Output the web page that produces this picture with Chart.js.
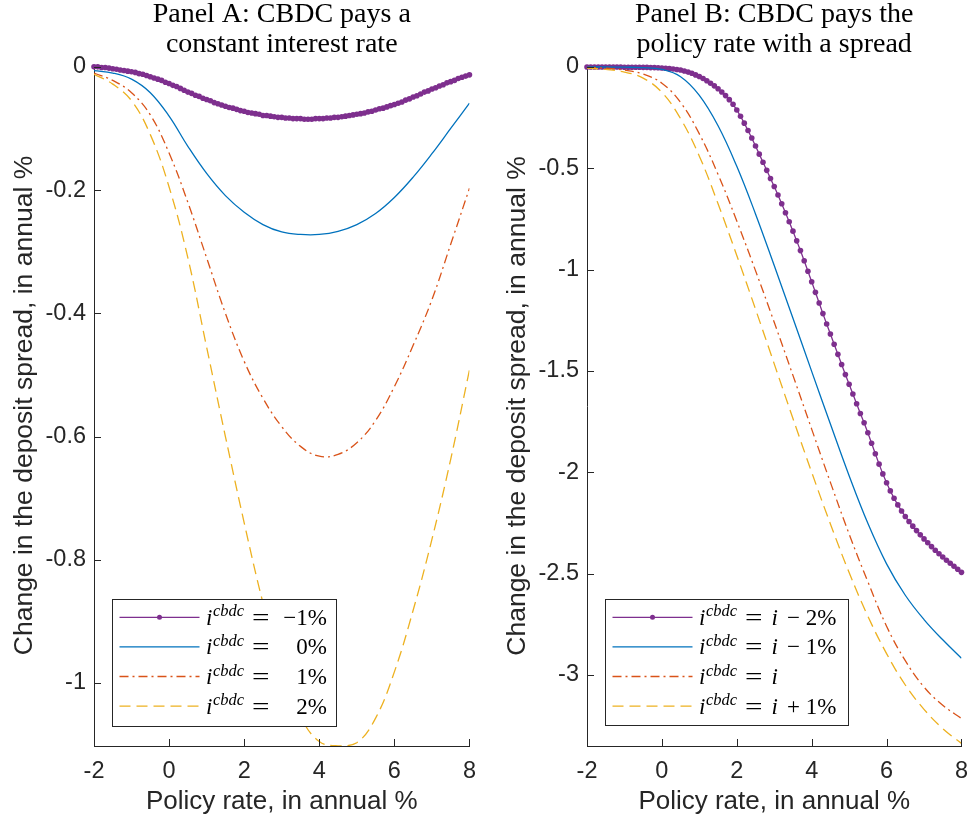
<!DOCTYPE html>
<html><head><meta charset="utf-8">
<script src="https://cdn.jsdelivr.net/npm/chart.js@4.4.0/dist/chart.umd.min.js"></script>
<style>
html,body{margin:0;padding:0;background:#fff;}
body{width:971px;height:822px;position:relative;overflow:hidden;}
canvas{position:absolute;top:0;}
#cA{left:0;} #cB{left:485px;}
</style></head><body>
<canvas id="cA" width="487" height="822"></canvas>
<canvas id="cB" width="494" height="822"></canvas>
<script>
// ---------- DATA ----------
const policyRateCoarse = [-2,-1.5,-1,-0.5,0,0.5,1,1.5,2,2.5,3,3.5,4,4.5,5,5.5,6,6.5,7,7.5,8];
const policyRateFine = [-2,-1.9,-1.8,-1.7,-1.6,-1.5,-1.4,-1.3,-1.2,-1.1,-1,-0.9,-0.8,-0.7,-0.6,-0.5,-0.4,-0.3,-0.2,-0.1,
 0,0.1,0.2,0.3,0.4,0.5,0.6,0.7,0.8,0.9,1,1.1,1.2,1.3,1.4,1.5,1.6,1.7,1.8,1.9,
 2,2.1,2.2,2.3,2.4,2.5,2.6,2.7,2.8,2.9,3,3.1,3.2,3.3,3.4,3.5,3.6,3.7,3.8,3.9,
 4,4.1,4.2,4.3,4.4,4.5,4.6,4.7,4.8,4.9,5,5.1,5.2,5.3,5.4,5.5,5.6,5.7,5.8,5.9,
 6,6.1,6.2,6.3,6.4,6.5,6.6,6.7,6.8,6.9,7,7.1,7.2,7.3,7.4,7.5,7.6,7.7,7.8,7.9,8];

// Panel A: CBDC pays a constant interest rate
const panelA_cbdcMinus1 = [0,-0.000,-0.001,-0.001,-0.002,-0.003,-0.004,-0.005,-0.006,-0.007,-0.008,-0.009,-0.011,-0.012,-0.014,-0.016,-0.018,-0.020,-0.022,-0.025,
 -0.027,-0.030,-0.032,-0.035,-0.038,-0.041,-0.043,-0.046,-0.048,-0.051,-0.053,-0.055,-0.058,-0.060,-0.062,-0.064,-0.066,-0.067,-0.069,-0.071,
 -0.072,-0.074,-0.075,-0.076,-0.077,-0.079,-0.079,-0.080,-0.081,-0.082,-0.082,-0.083,-0.083,-0.084,-0.084,-0.084,-0.085,-0.085,-0.085,-0.084,
 -0.084,-0.084,-0.083,-0.083,-0.082,-0.082,-0.081,-0.080,-0.079,-0.078,-0.077,-0.076,-0.075,-0.073,-0.072,-0.070,-0.068,-0.067,-0.065,-0.063,
 -0.061,-0.059,-0.057,-0.054,-0.052,-0.049,-0.047,-0.044,-0.041,-0.039,-0.036,-0.034,-0.031,-0.029,-0.026,-0.024,-0.022,-0.019,-0.017,-0.015,-0.013];
const panelA_cbdc0 = [-0.006,-0.010,-0.020,-0.042,-0.080,-0.129,-0.173,-0.209,-0.236,-0.256,-0.268,-0.272,-0.272,-0.267,-0.256,-0.238,-0.212,-0.179,-0.141,-0.100,-0.059];
const panelA_cbdc1 = [-0.010,-0.022,-0.042,-0.078,-0.140,-0.220,-0.310,-0.400,-0.478,-0.538,-0.584,-0.616,-0.632,-0.629,-0.610,-0.574,-0.519,-0.452,-0.378,-0.288,-0.197];
const panelA_cbdc2 = [-0.012,-0.028,-0.055,-0.110,-0.195,-0.310,-0.455,-0.600,-0.740,-0.870,-0.980,-1.055,-1.095,-1.102,-1.097,-1.057,-0.982,-0.882,-0.767,-0.637,-0.492];

// Panel B: CBDC pays the policy rate with a spread
const panelB_iMinus2 = [0,0,0,0,0,0,0,0,0,0,-0.001,-0.001,-0.001,-0.001,-0.001,-0.002,-0.002,-0.003,-0.003,-0.004,
 -0.005,-0.006,-0.008,-0.010,-0.012,-0.015,-0.020,-0.025,-0.031,-0.039,-0.047,-0.057,-0.068,-0.080,-0.093,-0.107,-0.123,-0.141,-0.161,-0.184,
 -0.212,-0.243,-0.277,-0.313,-0.350,-0.390,-0.430,-0.470,-0.510,-0.550,-0.590,-0.632,-0.675,-0.719,-0.764,-0.810,-0.858,-0.906,-0.956,-1.008,
 -1.060,-1.112,-1.165,-1.217,-1.268,-1.318,-1.368,-1.418,-1.468,-1.518,-1.566,-1.614,-1.662,-1.710,-1.756,-1.805,-1.857,-1.909,-1.960,-2.008,
 -2.052,-2.092,-2.128,-2.161,-2.191,-2.218,-2.243,-2.266,-2.288,-2.309,-2.329,-2.348,-2.367,-2.385,-2.402,-2.418,-2.434,-2.449,-2.464,-2.479,-2.494];
const panelB_iMinus1 = [0,0,-0.001,-0.003,-0.012,-0.048,-0.140,-0.290,-0.490,-0.725,-0.980,-1.240,-1.502,-1.762,-2.017,-2.252,-2.452,-2.607,-2.727,-2.827,-2.918];
const panelB_i = [-0.002,-0.006,-0.015,-0.035,-0.080,-0.175,-0.330,-0.530,-0.760,-1.005,-1.260,-1.522,-1.787,-2.050,-2.305,-2.540,-2.760,-2.930,-3.060,-3.150,-3.215];
const panelB_iPlus1 = [-0.005,-0.012,-0.025,-0.055,-0.125,-0.255,-0.440,-0.675,-0.930,-1.195,-1.465,-1.735,-2.000,-2.255,-2.495,-2.710,-2.895,-3.050,-3.170,-3.265,-3.338];

const xTickValues = [-2,0,2,4,6,8];
const xTickLabels = ['-2','0','2','4','6','8'];
const yTickValuesA = [0,-0.2,-0.4,-0.6,-0.8,-1];
const yTickLabelsA = ['0','-0.2','-0.4','-0.6','-0.8','-1'];
const yTickValuesB = [0,-0.5,-1,-1.5,-2,-2.5,-3];
const yTickLabelsB = ['0','-0.5','-1','-1.5','-2','-2.5','-3'];
const titleA = ['Panel A: CBDC pays a','constant interest rate'];
const titleB = ['Panel B: CBDC pays the','policy rate with a spread'];
const xAxisTitle = 'Policy rate, in annual %';
const yAxisTitle = 'Change in the deposit spread, in annual %';
const legendValuesA = ['\u22121%','0%','1%','2%'];
const legendValuesB = ['\u2212 2%','\u2212 1%','','+ 1%'];

// ---------- STYLE ----------
const SANS = '"Liberation Sans", Arial, sans-serif';
const SERIF = '"Liberation Serif", "Times New Roman", serif';
const AXIS = '#262626';
const seriesStyles = [
  {color:'#7E2F8E', dash:[], marker:true, order:3},
  {color:'#0072BD', dash:[], order:2},
  {color:'#D95319', dash:[9,4,2,4], order:1},
  {color:'#EDB120', dash:[11,6], order:0}
];

function pts(xs, ys){ return xs.map((x,i)=>({x:x, y:ys[i]})); }

function makeDatasets(fineSeries, coarseList){
  const all = [pts(policyRateFine, fineSeries)].concat(coarseList.map(s=>pts(policyRateCoarse, s)));
  return all.map((d,i)=>{
    const st = seriesStyles[i];
    const ds = {data:d, borderColor:st.color, backgroundColor:st.color, borderWidth:1.3,
      borderDash:st.dash, order:st.order, fill:false};
    if (st.marker){
      Object.assign(ds,{pointRadius:2.8, pointHoverRadius:2.8, pointBackgroundColor:st.color, pointBorderWidth:0, tension:0, clip:false});
    } else {
      Object.assign(ds,{pointRadius:0, pointHoverRadius:0, tension:0.4});
    }
    return ds;
  });
}

function tickPlugin(yVals){
  return {id:'inTicks', afterDraw(chart){
    const ctx = chart.ctx, a = chart.chartArea, xs = chart.scales.x, ys = chart.scales.y;
    ctx.save(); ctx.strokeStyle = AXIS; ctx.lineWidth = 1;
    ctx.beginPath();
    xTickValues.forEach(v=>{ const p = Math.round(xs.getPixelForValue(v))+0.5; ctx.moveTo(p,a.bottom); ctx.lineTo(p,a.bottom-7); });
    yVals.forEach(v=>{ const p = Math.round(ys.getPixelForValue(v))+0.5; ctx.moveTo(a.left,p); ctx.lineTo(a.left+7,p); });
    ctx.stroke(); ctx.restore();
  }};
}

function drawWideEq(ctx, x, y){
  ctx.save(); ctx.translate(x, y); ctx.scale(1.35, 1);
  ctx.font = '23px ' + SERIF; ctx.textAlign = 'left'; ctx.fillText('=', 0, 0);
  ctx.restore();
}

function legendPlugin(box, values, mode){
  return {id:'mathLegend', afterDraw(chart){
    const ctx = chart.ctx;
    ctx.save();
    ctx.fillStyle = '#fff'; ctx.fillRect(box.left, box.top, box.width, box.height);
    ctx.strokeStyle = AXIS; ctx.lineWidth = 1; ctx.setLineDash([]);
    ctx.strokeRect(box.left+0.5, box.top+0.5, box.width, box.height);
    chart.data.datasets.forEach((ds,i)=>{
      const yc = box.top + 18.3 + i*29.6;
      ctx.save();
      ctx.setLineDash(ds.borderDash||[]); ctx.strokeStyle = ds.borderColor; ctx.lineWidth = ds.borderWidth;
      ctx.beginPath(); ctx.moveTo(box.left+7.5, yc); ctx.lineTo(box.left+87.5, yc); ctx.stroke();
      ctx.restore();
      if (ds.pointRadius > 0){
        ctx.fillStyle = ds.borderColor; ctx.beginPath();
        ctx.arc(box.left+47.5, yc, 2.5, 0, 2*Math.PI); ctx.fill();
      }
      ctx.fillStyle = '#000'; ctx.textBaseline = 'alphabetic'; ctx.textAlign = 'left';
      ctx.font = 'italic 23px ' + SERIF; ctx.fillText('i', box.left+94, yc+7.5);
      ctx.font = 'italic 16.5px ' + SERIF; ctx.fillText('cbdc', box.left+101, yc-1);
      drawWideEq(ctx, box.left+140, yc+7.5);
      if (mode === 'A'){
        ctx.textAlign = 'right'; ctx.font = '23px ' + SERIF;
        ctx.fillText(values[i], box.left+box.width-9, yc+7.5);
      } else {
        ctx.font = 'italic 23px ' + SERIF; ctx.fillText('i', box.left+166.5, yc+7.5);
        ctx.font = '23px ' + SERIF; ctx.fillText(values[i], box.left+182, yc+7.5);
      }
    });
    ctx.restore();
  }};
}

function makeChart(id, cfg){
  return new Chart(document.getElementById(id), {
    type:'line',
    data:{datasets: cfg.datasets},
    options:{
      responsive:false, animation:false, devicePixelRatio:1,
      events:[],
      layout:{padding:{left:0, right:cfg.padRight, top:0, bottom:0}},
      plugins:{
        legend:{display:false}, tooltip:{enabled:false},
        title:{display:true, text:cfg.title, color:'#000', fullSize:false,
          font:{family:SERIF, size:28, weight:'normal', lineHeight:'30px'},
          padding:{top:0, bottom:cfg.titlePadBottom}}
      },
      scales:{
        x:{type:'linear', position:'bottom', min:-2, max:8, bounds:'data',
          afterFit:s=>{s.height = 76;},
          afterBuildTicks:s=>{s.ticks = xTickValues.map(v=>({value:v}));},
          grid:{display:false, drawTicks:false},
          border:{display:true, color:AXIS, width:1},
          ticks:{autoSkip:false, maxRotation:0, color:AXIS, padding:11,
            font:{family:SANS, size:23.5},
            callback:(v,i)=>xTickLabels[i]},
          title:{display:true, text:xAxisTitle, color:AXIS,
            font:{family:SANS, size:26}, padding:{top:0, bottom:4.4}}
        },
        y:{type:'linear', position:'left', min:cfg.yMin, max:cfg.yMax, bounds:'data',
          afterFit:s=>{s.width = cfg.yWidth;},
          afterBuildTicks:s=>{s.ticks = cfg.yVals.map(v=>({value:v}));},
          grid:{display:false, drawTicks:false},
          border:{display:true, color:AXIS, width:1},
          ticks:{autoSkip:false, color:AXIS, padding:8,
            font:{family:SANS, size:23.5},
            callback:(v,i)=>cfg.yLabels[i]},
          title:{display:true, text:yAxisTitle, color:AXIS,
            font:{family:SANS, size:26.5}, padding:{top:cfg.yTitlePad, bottom:0}}
        }
      }
    },
    plugins:[tickPlugin(cfg.yVals), legendPlugin(cfg.legendBox, cfg.legendValues, cfg.mode)]
  });
}

makeChart('cA', {
  datasets: makeDatasets(panelA_cbdcMinus1, [panelA_cbdc0, panelA_cbdc1, panelA_cbdc2]),
  title:titleA, titlePadBottom:5, padRight:0, yMin:-1.1023, yMax:0.003, yWidth:94, yTitlePad:9.1,
  yVals:yTickValuesA, yLabels:yTickLabelsA,
  legendBox:{left:112, top:599, width:224, height:127}, legendValues:legendValuesA, mode:'A'
});
makeChart('cB', {
  datasets: makeDatasets(panelB_iMinus2, [panelB_iMinus1, panelB_i, panelB_iPlus1]),
  title:titleB, titlePadBottom:6, padRight:0, yMin:-3.351, yMax:0.005, yWidth:102, yTitlePad:17.1,
  yVals:yTickValuesB, yLabels:yTickLabelsB,
  legendBox:{left:120, top:599, width:243, height:126}, legendValues:legendValuesB, mode:'B'
});
</script>
</body></html>
